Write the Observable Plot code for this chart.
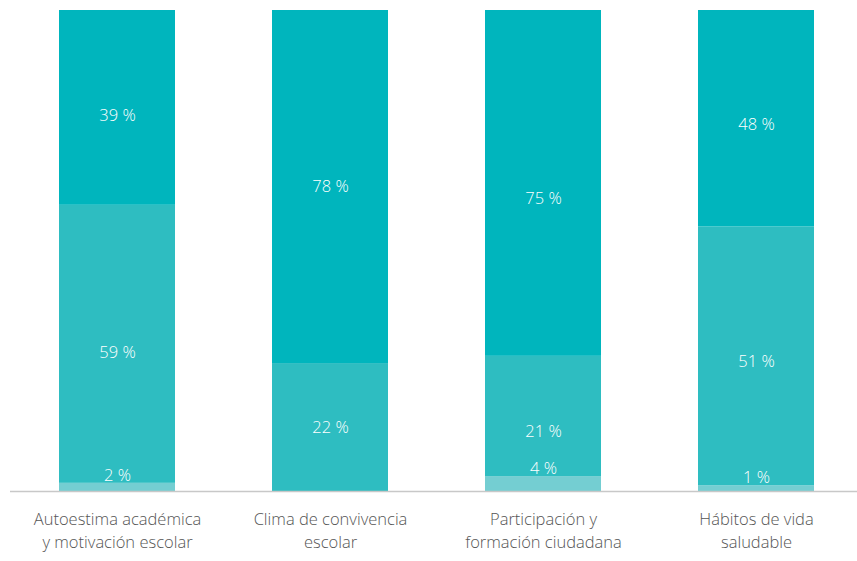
<!DOCTYPE html>
<html><head><meta charset="utf-8">
<script src="https://cdn.jsdelivr.net/npm/d3@7"></script>
<script src="https://cdn.jsdelivr.net/npm/@observablehq/plot@0.6"></script>
<style>
body{margin:0;background:#fff;}
#chart svg{font-family:"Open Sans",sans-serif;}
</style>
</head><body><div id="chart"></div>
<script>
const categories = ["Autoestima académica\ny motivación escolar","Clima de convivencia\nescolar","Participación y\nformación ciudadana","Hábitos de vida\nsaludable"];
const levels = ["bajo","medio","alto"];
// segment shares as drawn (percent of bar height)
const bajo  = [1.7, 0, 3.1, 1.2];
const medio = [57.8, 26.6, 25.0, 53.8];
const alto  = [40.5, 73.4, 71.9, 45.0];
// printed labels
const bajoLabels  = ["2 %", "", "4 %", "1 %"];
const medioLabels = ["59 %", "22 %", "21 %", "51 %"];
const altoLabels  = ["39 %", "78 %", "75 %", "48 %"];
const colors = ["#74ced2", "#2ebdc1", "#00b5bd"];

const rows = [];
categories.forEach((c, i) => {
  rows.push({cat: c, level: "bajo", v: bajo[i], label: bajoLabels[i]});
  rows.push({cat: c, level: "medio", v: medio[i], label: medioLabels[i]});
  rows.push({cat: c, level: "alto", v: alto[i], label: altoLabels[i]});
});
const stackOpts = {x: "cat", y: "v", z: "level", order: levels};
const low = rows.filter(d => d.level === "bajo" && d.label);

const chart = Plot.plot({
  width: 857, height: 561,
  marginLeft: 10, marginRight: 0, marginTop: 10, marginBottom: 70,
  x: {domain: categories, paddingInner: 0.456, paddingOuter: 0.2135, align: 0.527, axis: null},
  y: {domain: [0, 100], axis: null},
  color: {domain: levels, range: colors},
  marks: [
    Plot.barY(rows, Plot.stackY({...stackOpts, fill: "level"})),
    Plot.text(rows, Plot.stackY({...stackOpts, y: "v", text: "label", filter: d => d.level !== "bajo"})),
    Plot.text(low, {x: "cat", y: "v", text: "label", dy: -8, fill: "white", fontSize: 16.5, fontWeight: 300}),
    Plot.ruleY([0], {stroke: "#c8c8c8", strokeWidth: 1.5}),
    Plot.text(categories, {x: d => d, y: 0, text: d => d, lineAnchor: "top", dy: 17, lineHeight: 1.4, fill: "#555", fontSize: 16.5, fontWeight: 300})
  ]
});
chart.querySelectorAll("g[aria-label='text']").forEach((g, i) => {
  if (i === 0) { g.setAttribute("fill", "white"); g.setAttribute("font-size", 16.5); g.setAttribute("font-weight", 300); }
});
document.getElementById("chart").appendChild(chart);
</script>
</body></html>
